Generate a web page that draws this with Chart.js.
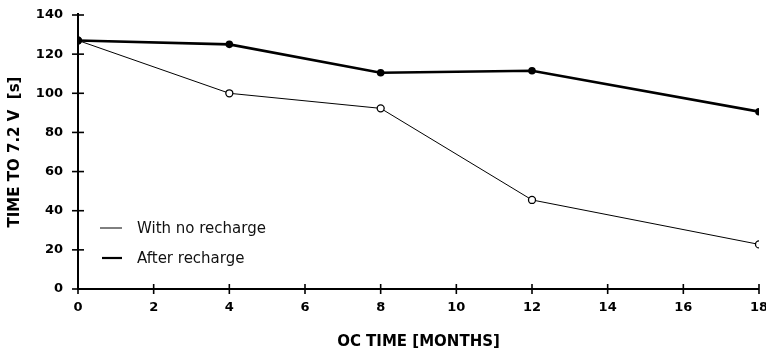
<!DOCTYPE html>
<html><head><meta charset="utf-8">
<script src="https://cdn.jsdelivr.net/npm/chart.js@4"></script>
<style>html,body{margin:0;padding:0;background:#fff}#wrap{width:766px;height:353px;position:relative}</style>
</head><body><div id="wrap"><canvas id="c"></canvas></div>
<script>
const months = [0, 4, 8, 12, 18];
const noRecharge = [127, 100, 92.3, 45.5, 22.8];
const afterRecharge = [127, 125, 110.5, 111.5, 90.6];
const seriesLabels = ["With no recharge", "After recharge"];
const xTitle = "OC TIME [MONTHS]";
const yTitle = "TIME TO 7.2 V  [s]";

const toXY = (xs, ys) => xs.map((x, i) => ({x: x, y: ys[i]}));
const F = "'DejaVu Sans', sans-serif";

const crossTicks = {
  id: 'crossTicks',
  afterDraw(chart) {
    const ctx = chart.ctx, xs = chart.scales.x, ys = chart.scales.y;
    ctx.save();
    ctx.strokeStyle = '#000'; ctx.lineWidth = 2;
    ctx.beginPath();
    ctx.moveTo(xs.left, ys.top - 2); ctx.lineTo(xs.left, ys.bottom);
    ctx.lineTo(xs.right, ys.bottom);
    ctx.stroke();
    ctx.lineWidth = 1.6;
    xs.ticks.forEach(t => { const p = xs.getPixelForValue(t.value); ctx.beginPath(); ctx.moveTo(p, ys.bottom - 5); ctx.lineTo(p, ys.bottom + 5); ctx.stroke(); });
    ys.ticks.forEach(t => { const p = ys.getPixelForValue(t.value); ctx.beginPath(); ctx.moveTo(xs.left - 6, p); ctx.lineTo(xs.left + 6, p); ctx.stroke(); });
    // legend
    ctx.font = "15px " + F; ctx.fillStyle = '#111'; ctx.textBaseline = 'middle';
    const lx = xs.left + 22, ly = [228, 258];
    chart.data.datasets.forEach((d, i) => {
      ctx.lineWidth = i === 0 ? 1 : 2.2; ctx.strokeStyle = '#000';
      ctx.beginPath(); ctx.moveTo(lx + (i ? 2 : 0), ly[i]); ctx.lineTo(lx + 22, ly[i]); ctx.stroke();
      ctx.fillText(d.label, lx + 37, ly[i] + 1);
    });
    ctx.restore();
  }
};

new Chart(document.getElementById('c'), {
  type: 'line',
  data: { datasets: [
    { label: seriesLabels[0], data: toXY(months, noRecharge), borderColor: '#000', borderWidth: 1,
      pointRadius: 3.5, pointBackgroundColor: '#fff', pointBorderColor: '#000', pointBorderWidth: 1.3, tension: 0, order: 2 },
    { label: seriesLabels[1], data: toXY(months, afterRecharge), borderColor: '#000', borderWidth: 2.6,
      pointRadius: 3.8, pointBackgroundColor: '#000', pointBorderColor: '#000', pointBorderWidth: 0, tension: 0, order: 1 }
  ]},
  options: {
    responsive: true, maintainAspectRatio: false, animation: false,
    layout: { padding: { left: 6, right: 7, top: 15, bottom: 0 } },
    plugins: { legend: { display: false }, tooltip: { enabled: false } },
    scales: {
      x: { type: 'linear', min: 0, max: 18,
        ticks: { stepSize: 2, color: '#000', font: { family: F, size: 13, weight: 'bold' }, padding: 11 },
        grid: { display: false, drawTicks: false }, border: { display: false },
        title: { display: true, text: xTitle, color: '#000', font: { family: F, size: 15, weight: 'bold' }, padding: { top: 10, bottom: 2 } },
        afterFit: s => { s.height = 64; s.paddingLeft = 0; s.paddingRight = 0; } },
      y: { min: 0, max: 140,
        ticks: { stepSize: 20, color: '#000', font: { family: F, size: 13, weight: 'bold' }, padding: 15 },
        grid: { display: false, drawTicks: false }, border: { display: false },
        title: { display: true, text: yTitle, color: '#000', font: { family: F, size: 15, weight: 'bold' }, padding: { top: 0, bottom: 4 } },
        afterFit: s => { s.width = 72; s.paddingTop = 0; s.paddingBottom = 0; } }
    }
  },
  plugins: [crossTicks]
});
</script></body></html>
